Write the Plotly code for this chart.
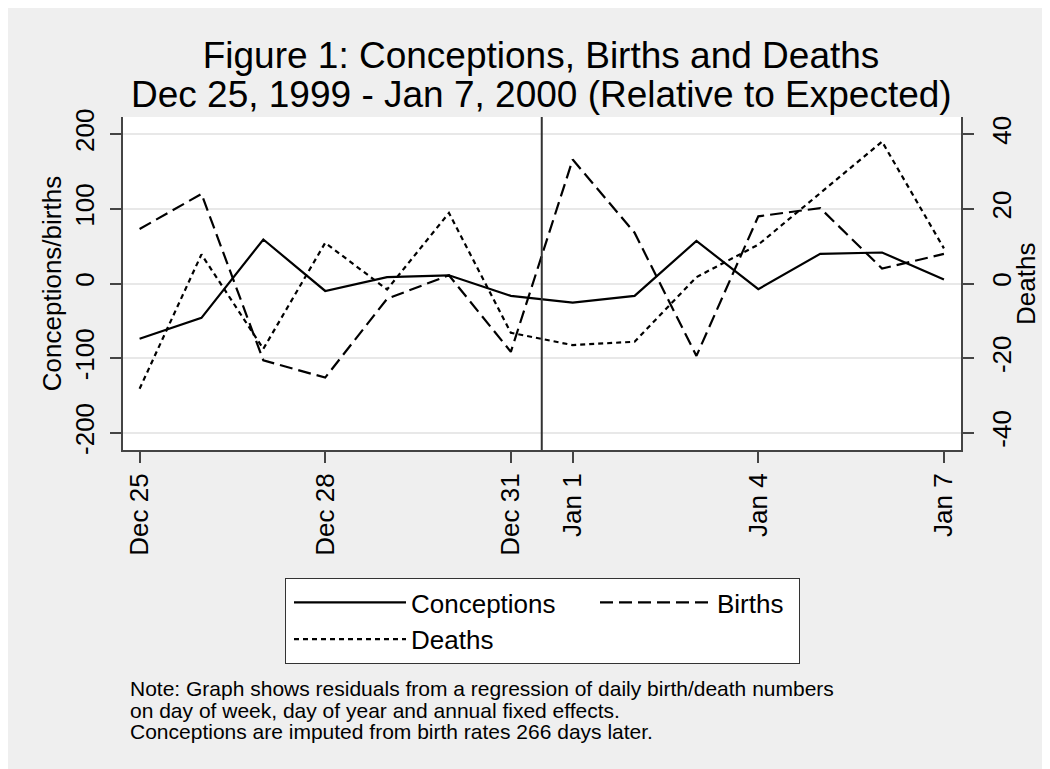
import plotly.graph_objects as go

# ---- data ----
dates = ["1999-12-25", "1999-12-26", "1999-12-27", "1999-12-28", "1999-12-29",
         "1999-12-30", "1999-12-31", "2000-01-01", "2000-01-02", "2000-01-03",
         "2000-01-04", "2000-01-05", "2000-01-06", "2000-01-07"]
conceptions = [-74, -46, 59, -10, 8.5, 11, -16.5, -25.5, -16.5, 57, -7.6, 39.7, 41.5, 5.4]
births = [73, 120, -103, -126, -20.5, 11, -91.5, 166, 68, -97, 90, 101, 20, 39.7]
deaths = [-28.2, 7.8, -17.5, 10.9, -1.6, 18.9, -13.2, -16.5, -15.6, 1.7, 10.4, 24.3, 38, 9.4]

x_tickvals = ["1999-12-25", "1999-12-28", "1999-12-31", "2000-01-01", "2000-01-04", "2000-01-07"]
x_ticktext = ["Dec 25", "Dec 28", "Dec 31", "Jan 1", "Jan 4", "Jan 7"]
y1_ticks = [-200, -100, 0, 100, 200]
y1_ticktext = ["-200", "-100", "0", "100", "200"]
y2_ticks = [-40, -20, 0, 20, 40]
y2_ticktext = ["-40", "-20", "0", "20", "40"]
millennium = "1999-12-31 12:00"

title1 = "Figure 1: Conceptions, Births and Deaths"
title2 = "Dec 25, 1999 - Jan 7, 2000 (Relative to Expected)"
y1_title = "Conceptions/births"
y2_title = "Deaths"
note_lines = [
    "Note: Graph shows residuals from a regression of daily birth/death numbers",
    "on day of week, day of year and annual fixed effects.",
    "Conceptions are imputed from birth rates 266 days later.",
]

FONT = "Arial, 'Liberation Sans', Helvetica, sans-serif"
AX = "#444444"
OFF = 8  # page body margin offset of the figure in the screenshot

# plot area in figure pixels
PL, PR, PT, PB = 123 - OFF, 961 - OFF, 117 - OFF, 450 - OFF
W, H = 1050, 769
PW, PH = PR - PL, PB - PT


def px(xs):
    return (xs - OFF - PL) / PW


def py(ys):
    return (PB - (ys - OFF)) / PH


fig = go.Figure()
# legend groups: column 1 = Conceptions over Deaths, column 2 = Births
fig.add_trace(go.Scatter(x=dates, y=conceptions, name="Conceptions", mode="lines",
                         legendgroup="col1", legendwidth=175,
                         line=dict(color="black", width=2.2)))
fig.add_trace(go.Scatter(x=dates, y=births, name="Births", mode="lines",
                         legendgroup="col2", legendwidth=77,
                         line=dict(color="black", width=2.2, dash="13px,6px")))
fig.add_trace(go.Scatter(x=dates, y=deaths, name="Deaths", mode="lines", yaxis="y2",
                         legendgroup="col1", legendwidth=100,
                         line=dict(color="black", width=2.2, dash="5px,4px")))

fig.add_vline(x=millennium, line=dict(color="#333333", width=2))

fig.update_layout(
    width=W, height=H,
    margin=dict(l=PL, r=W - PR, t=PT, b=H - PB, autoexpand=False),
    paper_bgcolor="#efefef", plot_bgcolor="white",
    font=dict(family=FONT, color="black", size=26),
    title=dict(text=title1, x=(541 - OFF) / W, xanchor="center", xref="container",
               y=1 - (55 - OFF) / H, yanchor="middle", yref="container",
               font=dict(size=37, family=FONT, color="black")),
    xaxis=dict(type="date", range=["1999-12-24 17:34", "2000-01-07 06:37"],
               tickvals=x_tickvals, ticktext=x_ticktext, tickangle=-90,
               ticks="outside", ticklen=11, tickwidth=1.5, tickcolor=AX,
               showline=True, linecolor=AX, linewidth=2, showgrid=False, zeroline=False,
               tickfont=dict(size=26)),
    yaxis=dict(range=[-223, 223], tickvals=y1_ticks, ticktext=y1_ticktext, tickangle=-90,
               ticks="outside", ticklen=11, tickwidth=1.5, tickcolor=AX,
               showline=True, linecolor=AX, linewidth=2, ticklabelstandoff=6,
               showgrid=True, gridcolor="#e8e8e8", gridwidth=2, zeroline=False,
               title=dict(text=y1_title, standoff=0, font=dict(size=26)),
               tickfont=dict(size=26)),
    yaxis2=dict(range=[-44.6, 44.6], tickvals=y2_ticks, ticktext=y2_ticktext, tickangle=-90,
                overlaying="y", side="right", ticklabelstandoff=6,
                ticks="outside", ticklen=11, tickwidth=1.5, tickcolor=AX,
                showline=True, linecolor=AX, linewidth=2, showgrid=False, zeroline=False,
                tickfont=dict(size=26)),
    legend=dict(orientation="h", traceorder="grouped", x=px(285), y=py(578),
                xanchor="left", yanchor="top",
                bgcolor="white", bordercolor="#333333", borderwidth=1,
                font=dict(size=26), itemwidth=112, indentation=4, tracegroupgap=0),
    showlegend=True,
)

# right axis title (placed as rotated text beside the tick labels)
fig.add_annotation(text=y2_title, xref="paper", yref="paper", x=px(1026), y=py(284),
                   xanchor="center", yanchor="middle", textangle=-90, showarrow=False,
                   font=dict(size=26, family=FONT, color="black"))
fig.add_annotation(text=title2, xref="paper", yref="paper", x=px(541), y=py(94.5),
                   xanchor="center", yanchor="middle", showarrow=False,
                   font=dict(size=37, family=FONT, color="black"))
note_y = [688, 710, 731]
for txt, yy in zip(note_lines, note_y):
    fig.add_annotation(text=txt, xref="paper", yref="paper", x=px(128), y=py(yy),
                       xanchor="left", yanchor="middle", showarrow=False, align="left",
                       font=dict(size=21, family=FONT, color="black"))

fig.write_html("out.html")
